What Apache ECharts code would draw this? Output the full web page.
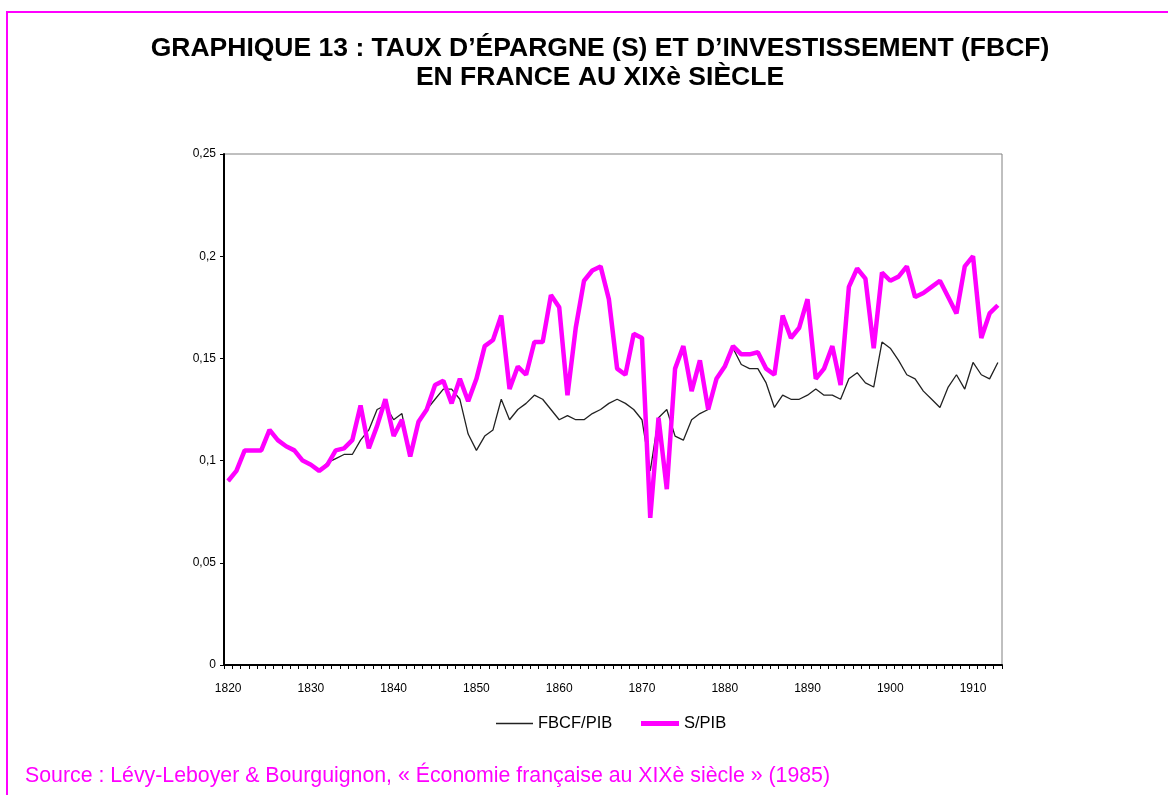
<!DOCTYPE html>
<html>
<head>
<meta charset="utf-8">
<script src="https://cdn.jsdelivr.net/npm/echarts@6/dist/echarts.min.js"></script>
<style>
html,body{margin:0;padding:0;background:#fff;}
#chart{width:1168px;height:795px;}
</style>
</head>
<body>
<div id="chart"></div>
<script>
// ---- data ----
const years = [];
for (let y = 1820; y <= 1913; y++) years.push(String(y));

const fbcfPib = [
  0.090,0.095,0.105,0.105,0.105,0.115,0.110,0.107,0.105,0.100, // 1820-1829
  0.098,0.095,0.099,0.101,0.103,0.103,0.110,0.115,0.125,0.127, // 1830-1839
  0.120,0.123,0.102,0.118,0.125,0.130,0.135,0.135,0.130,0.113, // 1840-1849
  0.105,0.112,0.115,0.130,0.120,0.125,0.128,0.132,0.130,0.125, // 1850-1859
  0.120,0.122,0.120,0.120,0.123,0.125,0.128,0.130,0.128,0.125, // 1860-1869
  0.120,0.095,0.121,0.125,0.112,0.110,0.120,0.123,0.125,0.140, // 1870-1879
  0.146,0.155,0.147,0.145,0.145,0.138,0.126,0.132,0.130,0.130, // 1880-1889
  0.132,0.135,0.132,0.132,0.130,0.140,0.143,0.138,0.136,0.158, // 1890-1899
  0.155,0.149,0.142,0.140,0.134,0.130,0.126,0.136,0.142,0.135, // 1900-1909
  0.148,0.142,0.140,0.148                                      // 1910-1913
];

const sPib = [
  0.090,0.095,0.105,0.105,0.105,0.115,0.110,0.107,0.105,0.100, // 1820-1829
  0.098,0.095,0.098,0.105,0.106,0.110,0.127,0.106,0.117,0.130, // 1830-1839
  0.112,0.120,0.102,0.119,0.125,0.137,0.139,0.128,0.140,0.129, // 1840-1849
  0.140,0.156,0.159,0.171,0.135,0.146,0.142,0.158,0.158,0.181, // 1850-1859
  0.175,0.132,0.165,0.188,0.193,0.195,0.179,0.145,0.142,0.162, // 1860-1869
  0.160,0.072,0.121,0.086,0.145,0.156,0.134,0.149,0.125,0.140, // 1870-1879
  0.146,0.156,0.152,0.152,0.153,0.145,0.142,0.171,0.160,0.165, // 1880-1889
  0.179,0.140,0.145,0.156,0.137,0.185,0.194,0.189,0.155,0.192, // 1890-1899
  0.188,0.190,0.195,0.180,0.182,0.185,0.188,0.180,0.172,0.195, // 1900-1909
  0.200,0.160,0.172,0.176                                      // 1910-1913
];

const seriesNames = ['FBCF/PIB', 'S/PIB'];
const titleText = 'GRAPHIQUE 13 : TAUX D\u2019ÉPARGNE (S) ET D\u2019INVESTISSEMENT (FBCF)\nEN FRANCE AU XIXè SIÈCLE';
const sourceText = 'Source : Lévy-Leboyer & Bourguignon, « Économie française au XIXè siècle » (1985)';

// ---- chart ----
const FONT = '"Liberation Sans", Arial, sans-serif';
const chart = echarts.init(document.getElementById('chart'), null, {renderer: 'canvas'});
chart.setOption({
  backgroundColor: '#ffffff',
  animation: false,
  textStyle: {fontFamily: FONT},
  title: [
    {
      text: titleText,
      left: 595, top: 29, textAlign: 'center',
      textStyle: {fontFamily: FONT, fontSize: 26.5, fontWeight: 'bold', color: '#000', lineHeight: 29}
    },
    {
      text: sourceText,
      left: 20, top: 761,
      textStyle: {fontFamily: FONT, fontSize: 21.3, fontWeight: 'normal', color: '#ff00ff'}
    }
  ],
  graphic: [
    {type: 'line', shape: {x1: 6, y1: 12, x2: 1168, y2: 12}, style: {stroke: '#ff00ff', lineWidth: 2}},
    {type: 'line', shape: {x1: 7, y1: 12, x2: 7, y2: 795}, style: {stroke: '#ff00ff', lineWidth: 2}}
  ],
  legend: [
    {
      data: [seriesNames[0]], left: 496, top: 715, padding: 0, icon: 'rect',
      itemWidth: 37, itemHeight: 1.5, itemGap: 2,
      textStyle: {fontFamily: FONT, fontSize: 16.5, color: '#000'}
    },
    {
      data: [seriesNames[1]], left: 641, top: 715, padding: 0, icon: 'rect',
      itemWidth: 38, itemHeight: 5, itemGap: 2,
      textStyle: {fontFamily: FONT, fontSize: 16.5, color: '#000'}
    }
  ],
  grid: {
    left: 224, right: 166, top: 154, bottom: 130,
    show: true, borderColor: '#808080', borderWidth: 1, backgroundColor: 'transparent'
  },
  xAxis: {
    type: 'category',
    data: years,
    boundaryGap: true,
    axisLine: {lineStyle: {color: '#000', width: 2}},
    axisTick: {show: true, interval: 0, length: 4, inside: false, lineStyle: {color: '#000', width: 1}},
    axisLabel: {
      interval: function (idx, val) { return (Number(val) - 1820) % 10 === 0; },
      fontFamily: FONT, fontSize: 12, color: '#000', margin: 18
    },
    splitLine: {show: false}
  },
  yAxis: {
    type: 'value',
    min: 0, max: 0.25, interval: 0.05,
    axisLine: {show: true, lineStyle: {color: '#000', width: 2}},
    axisTick: {show: true, length: 4, lineStyle: {color: '#000'}},
    axisLabel: {
      formatter: function (v) { return String(Math.round(v * 100) / 100).replace('.', ','); },
      fontFamily: FONT, fontSize: 12, color: '#000', margin: 8
    },
    splitLine: {show: false}
  },
  series: [
    {
      name: seriesNames[0], type: 'line', data: fbcfPib,
      symbol: 'none', color: '#222222',
      lineStyle: {color: '#222222', width: 1.3}
    },
    {
      name: seriesNames[1], type: 'line', data: sPib,
      symbol: 'none', color: '#ff00ff',
      lineStyle: {color: '#ff00ff', width: 4.5}
    }
  ]
});
</script>
</body>
</html>
